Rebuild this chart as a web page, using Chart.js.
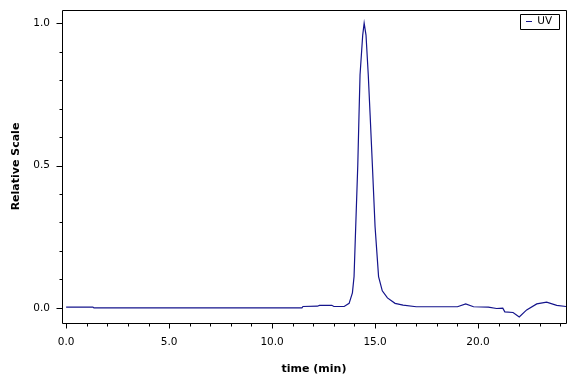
<!DOCTYPE html>
<html>
<head>
<meta charset="utf-8">
<script src="https://cdn.jsdelivr.net/npm/chart.js@4"></script>
<style>
  html, body { margin: 0; padding: 0; background: #fff; }
  #wrap { width: 576px; height: 384px; position: relative; }
</style>
</head>
<body>
<div id="wrap"><canvas id="graph"></canvas></div>
<script>
// chromatogram
const times = [0, 1.3, 1.35, 11.45, 11.5, 12.2, 12.3, 12.9, 13.0, 13.5, 13.74, 13.9, 13.98, 14.06, 14.16, 14.22, 14.27, 14.40, 14.47,
               14.56, 14.67, 14.76, 14.87, 15.0, 15.17, 15.35, 15.6, 15.97, 16.36, 17.0, 19.0, 19.4, 19.78, 20.5, 20.9, 21.2,
               21.3, 21.7, 22.0, 22.36, 22.85, 23.33, 23.82, 24.27];
const uv = [0.003, 0.003, 0.0, 0.0, 0.005, 0.006, 0.009, 0.009, 0.005, 0.005, 0.016, 0.053, 0.11, 0.285, 0.5, 0.677, 0.818, 0.958, 1.0,
            0.958, 0.818, 0.677, 0.5, 0.285, 0.11, 0.06, 0.035, 0.016, 0.01, 0.004, 0.004, 0.014, 0.004, 0.003, -0.002, -0.001,
            -0.014, -0.016, -0.032, -0.007, 0.014, 0.02, 0.009, 0.005];

const xTicks = [0, 5, 10, 15, 20];
const yTicks = [0, 0.5, 1.0];
const xMinor = [1, 2, 3, 4, 6, 7, 8, 9, 11, 12, 13, 14, 16, 17, 18, 19, 21, 22, 23, 24];
const yMinor = [0.1, 0.2, 0.3, 0.4, 0.6, 0.7, 0.8, 0.9];

const FONT = "'DejaVu Sans'";

// put the legend in the top right corner of the plot
const legendCorner = {
    id: "legendCorner",
    beforeDraw(chart) {
        const l = chart.legend;
        const a = chart.chartArea;
        if (!l || !l.legendHitBoxes.length) return;
        const h = l.legendHitBoxes[0];
        const dx = (a.right - 40) - h.left;
        const dy = (a.top + 11.5) - (h.top + h.height / 2);
        l.left += dx; l.right += dx;
        l.top += dy; l.bottom += dy;
        h.left += dx; h.top += dy;
    }
};

// frame, tick marks and legend box
const frame = {
    id: "frame",
    afterDraw(chart) {
        const c = chart.ctx;
        const a = chart.chartArea;
        const x = chart.scales.x, y = chart.scales.y;
        c.save();
        c.strokeStyle = "#000";
        c.lineWidth = 1;
        c.beginPath();
        c.rect(Math.round(a.left) + 0.5, Math.round(a.top) + 0.5, Math.round(a.right - a.left), Math.round(a.bottom - a.top));
        c.stroke();

        c.beginPath();
        const yb = Math.round(a.bottom) + 0.5;
        xTicks.forEach(v => {
            const px = Math.round(x.getPixelForValue(v)) + 0.5;
            c.moveTo(px, yb); c.lineTo(px, yb + 5);
        });
        xMinor.forEach(v => {
            const px = Math.round(x.getPixelForValue(v)) + 0.5;
            c.moveTo(px, yb); c.lineTo(px, yb + 3);
        });
        const xl = Math.round(a.left) + 0.5;
        yTicks.forEach(v => {
            const py = Math.round(y.getPixelForValue(v)) + 0.5;
            c.moveTo(xl, py); c.lineTo(xl - 6, py);
        });
        yMinor.forEach(v => {
            const py = Math.round(y.getPixelForValue(v)) + 0.5;
            c.moveTo(xl, py); c.lineTo(xl - 3, py);
        });
        c.stroke();

        const l = chart.legend;
        if (l && l.legendHitBoxes.length) {
            const h = l.legendHitBoxes[0];
            const cy = h.top + h.height / 2;
            c.beginPath();
            c.rect(Math.round(h.left) - 5.5, Math.round(cy - 7.5) + 0.5, Math.round(a.right) - 6 - Math.round(h.left) + 5, 15);
            c.stroke();
        }
        c.restore();
    }
};

const points = times.map((t, i) => ({x: t, y: uv[i]}));

new Chart(document.getElementById("graph"), {
    type: "line",
    data: {
        datasets: [
            {
                label: "UV",
                data: points,
                borderColor: "#14148c",
                backgroundColor: "#14148c",
                borderWidth: 1.2,
                pointRadius: 0,
                tension: 0,
                fill: false
            }
        ]
    },
    options: {
        responsive: true,
        maintainAspectRatio: false,
        animation: false,
        layout: { padding: { top: 10, right: 10, left: 0, bottom: 0 } },
        plugins: {
            tooltip: { enabled: false },
            legend: {
                position: "chartArea",
                align: "start",
                labels: {
                    usePointStyle: true,
                    pointStyle: "line",
                    pointStyleWidth: 6,
                    boxHeight: 6,
                    color: "#000",
                    padding: 0,
                    font: { family: FONT, size: 10.5 }
                }
            }
        },
        scales: {
            x: {
                type: "linear",
                min: -0.2,
                max: 24.27,
                afterFit: s => { s.height = 61; s.paddingLeft = 0; s.paddingRight = 0; },
                afterBuildTicks: s => { s.ticks = xTicks.map(v => ({value: v})); },
                grid: { display: true, drawOnChartArea: false, drawTicks: false },
                border: { display: false },
                ticks: {
                    color: "#000",
                    padding: 13,
                    maxRotation: 0,
                    font: { family: FONT, size: 10.5 },
                    callback: v => v.toFixed(1)
                },
                title: {
                    display: true,
                    text: "time (min)",
                    color: "#000",
                    padding: { top: 0, bottom: 8 },
                    font: { family: FONT, size: 11, weight: "bold" }
                }
            },
            y: {
                min: -0.053,
                max: 1.046,
                afterFit: s => { s.width = 62; s.paddingTop = 0; s.paddingBottom = 0; },
                afterBuildTicks: s => { s.ticks = yTicks.map(v => ({value: v})); },
                grid: { display: true, drawOnChartArea: false, drawTicks: false },
                border: { display: false },
                ticks: {
                    color: "#000",
                    padding: 12,
                    font: { family: FONT, size: 10.5 },
                    callback: v => v.toFixed(1)
                },
                title: {
                    display: true,
                    text: "Relative Scale",
                    color: "#000",
                    padding: { top: 10, bottom: 0 },
                    font: { family: FONT, size: 11, weight: "bold" }
                }
            }
        }
    },
    plugins: [legendCorner, frame]
});
</script>
</body>
</html>
